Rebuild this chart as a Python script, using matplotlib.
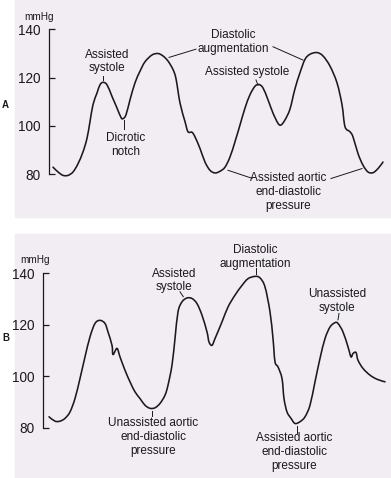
import matplotlib.pyplot as plt
from matplotlib.patches import Rectangle, PathPatch
from matplotlib.path import Path

# ---- data (time in chart units, pressure in mmHg) ----
t_a = [53, 58, 63, 68, 73, 78, 83, 87, 90, 93, 97, 100, 103, 107, 112, 117, 121, 123, 126,
       130, 135, 140, 145, 152, 158, 163, 168, 173, 176, 180, 185, 188, 192, 195, 200, 205,
       210, 215, 220, 225, 230, 235, 240, 245, 250, 255, 259, 263, 268, 273, 278, 281, 285,
       290, 295, 300, 305, 310, 317, 323, 330, 337, 342, 345, 350, 353, 358, 363, 368, 373,
       378, 383]
p_a = [83.0, 81.0, 79.6, 79.6, 81.0, 84.4, 89.3, 94.9, 101.8, 108.8, 113.6, 117.0, 118.0,
       117.0, 112.2, 107.4, 103.5, 103.0, 104.6, 110.8, 117.8, 122.6, 126.5, 129.3, 129.9,
       128.9, 126.8, 123.3, 119.5, 109.5, 101.8, 97.6, 97.4, 95.5, 90.7, 85.1,
       81.7, 80.6, 81.3, 83.0, 87.2, 93.5, 100.4, 107.4, 112.9, 116.4, 117.1, 115.7, 110.8,
       105.3, 101.1, 100.4, 102.5, 107.0, 115.4, 122.0, 127.5, 129.6, 130.3, 128.9, 124.7,
       117.8, 108.8, 99.7, 97.6, 95.5, 88.6, 83.8, 81.0, 80.7, 82.4, 85.1]

t_b = [49, 55, 60, 65, 70, 75, 80, 85, 90, 95, 100, 105, 108, 112, 113, 117, 120, 125, 130,
       135, 140, 145, 150, 155, 160, 165, 168, 172, 175, 178, 182, 187, 192, 197, 202, 207,
       209, 212, 215, 222, 228, 235, 242, 248, 255, 260, 265, 270, 273, 275, 278, 282, 284,
       287, 291, 295, 300, 305, 310, 315, 320, 325, 330, 335, 338, 343, 348, 351, 353, 356,
       358, 363, 370, 377, 385]
p_b = [84.2, 82.5, 82.5, 83.6, 86.1, 91.3, 99.1, 107.5, 115.3, 120.5, 121.7, 120.5, 117.2,
       112.0, 108.4, 110.8, 107.5, 102.3, 97.8, 93.9, 91.3, 88.7, 87.5, 87.7, 89.4, 92.6,
       96.5, 104.3, 114.6, 125.0, 128.9, 130.4, 130.2, 128.2, 123.7, 117.2, 113.3, 112.0,
       114.6, 121.1, 126.9, 131.5, 135.3, 137.9, 138.8, 138.2, 134.7, 125.0, 114.6, 105.6,
       103.6, 99.1, 91.3, 86.1, 83.6, 81.6, 82.3, 84.2, 88.7, 97.8, 106.9, 114.6, 119.1,
       120.8, 120.5, 117.2, 111.4, 107.5, 108.8, 109.2, 106.2, 103.0, 100.4, 98.8, 97.8]

ticks = [80, 100, 120, 140]

# annotations: text, text pos, leader segments
notes_a = [
    ("Assisted\nsystole", (107, 126.6), [((103, 120.7), (103, 118.9))]),
    ("Dicrotic\nnotch", (126, 92.0), [((124.3, 102.3), (124.3, 98.9))]),
    ("Diastolic\naugmentation", (233, 134.6), [((196, 131.7), (169, 128.3)),
                                              ((273, 132.7), (303, 127.2))]),
    ("Assisted systole", (246.7, 122.3), [((256, 119.0), (258, 116.8))]),
    ("Assisted aortic\nend-diastolic\npressure", (288.3, 72.8),
     [((252, 78.4), (228, 81.7)), ((331, 78.3), (362, 82.4))]),
]
notes_b = [
    ("Assisted\nsystole", (174.3, 137.2), [((180, 132.8), (183.3, 130.9))]),
    ("Diastolic\naugmentation", (255, 146.3), [((256, 141.9), (256, 139.6))]),
    ("Unassisted\nsystole", (337.3, 129.3), [((339, 124.4), (338, 121.9))]),
    ("Unassisted aortic\nend-diastolic\npressure", (153.3, 76.3), [((152, 86.6), (152, 84.6))]),
    ("Assisted aortic\nend-diastolic\npressure", (294.3, 70.4), [((297, 80.6), (297, 78.0))]),
]

W, H = 391, 478
pink = "#f2ecf3"
ink = "#1a1a1a"
sans = ["Liberation Sans", "DejaVu Sans"]

fig = plt.figure(figsize=(W / 100, H / 100), dpi=100)
fig.add_artist(Rectangle((15 / W, 1 - 216.5 / H), 1, 216.5 / H,
                         transform=fig.transFigure, color=pink, zorder=-5))
fig.add_artist(Rectangle((14.5 / W, 0), 1, 1 - 234 / H,
                         transform=fig.transFigure, color=pink, zorder=-5))


def smooth_path(t, p):
    # Catmull-Rom through the read points, drawn as cubic Bezier segments
    verts = [(t[0], p[0])]
    codes = [Path.MOVETO]
    n = len(t)
    for i in range(n - 1):
        x0, y0 = (t[i - 1], p[i - 1]) if i > 0 else (t[i], p[i])
        x1, y1 = t[i], p[i]
        x2, y2 = t[i + 1], p[i + 1]
        x3, y3 = (t[i + 2], p[i + 2]) if i + 2 < n else (x2, y2)
        c1 = (x1 + (x2 - x0) / 6, y1 + (y2 - y0) / 6)
        c2 = (x2 - (x3 - x1) / 6, y2 - (y3 - y1) / 6)
        verts += [c1, c2, (x2, y2)]
        codes += [Path.CURVE4] * 3
    return Path(verts, codes)


def panel(y0, y1, ylim, axis_x, t, p, notes, letter, letter_y, mm_x, mm_y):
    ax = fig.add_axes([0, 1 - y1 / H, 1, (y1 - y0) / H])
    ax.set_zorder(2)
    ax.patch.set_visible(False)
    ax.set_xlim(0, W)
    ax.set_ylim(*ylim)
    for s in ["top", "right", "bottom"]:
        ax.spines[s].set_visible(False)
    ax.spines["left"].set_position(("data", axis_x))
    ax.spines["left"].set_bounds(80, 140)
    ax.spines["left"].set_linewidth(0.9)
    ax.spines["left"].set_color(ink)
    ax.set_xticks([])
    ax.set_yticks(ticks)
    ax.tick_params(axis="y", direction="in", length=4, width=0.9, color=ink, pad=6,
                   labelsize=9.8, labelcolor=ink)
    for lab in ax.get_yticklabels():
        lab.set_family(sans)
    ax.add_patch(PathPatch(smooth_path(t, p), fill=False, edgecolor=ink, lw=1.15,
                           joinstyle="round", capstyle="round"))
    for txt, pos, segs in notes:
        ax.text(pos[0], pos[1], txt, ha="center", va="center", fontsize=8.5,
                family=sans, color=ink, linespacing=1.2)
        for a, b in segs:
            ax.plot([a[0], b[0]], [a[1], b[1]], color=ink, lw=0.7)
    ax.text(mm_x, mm_y, "mmHg", ha="center", va="center", fontsize=7.2,
            family=sans, color=ink)
    ax.text(5.5, letter_y, letter, ha="center", va="center", fontsize=7,
            fontweight="bold", family=sans, color=ink)
    return ax


panel(0, 216.5, (62.62, 152.0), 49, t_a, p_a, notes_a, "A", 108.6, 39, 145.0)
panel(233, 478, (60.4, 155.67), 43, t_b, p_b, notes_b, "B", 114.8, 35, 145.2)

fig.savefig("out.png", dpi=100)
